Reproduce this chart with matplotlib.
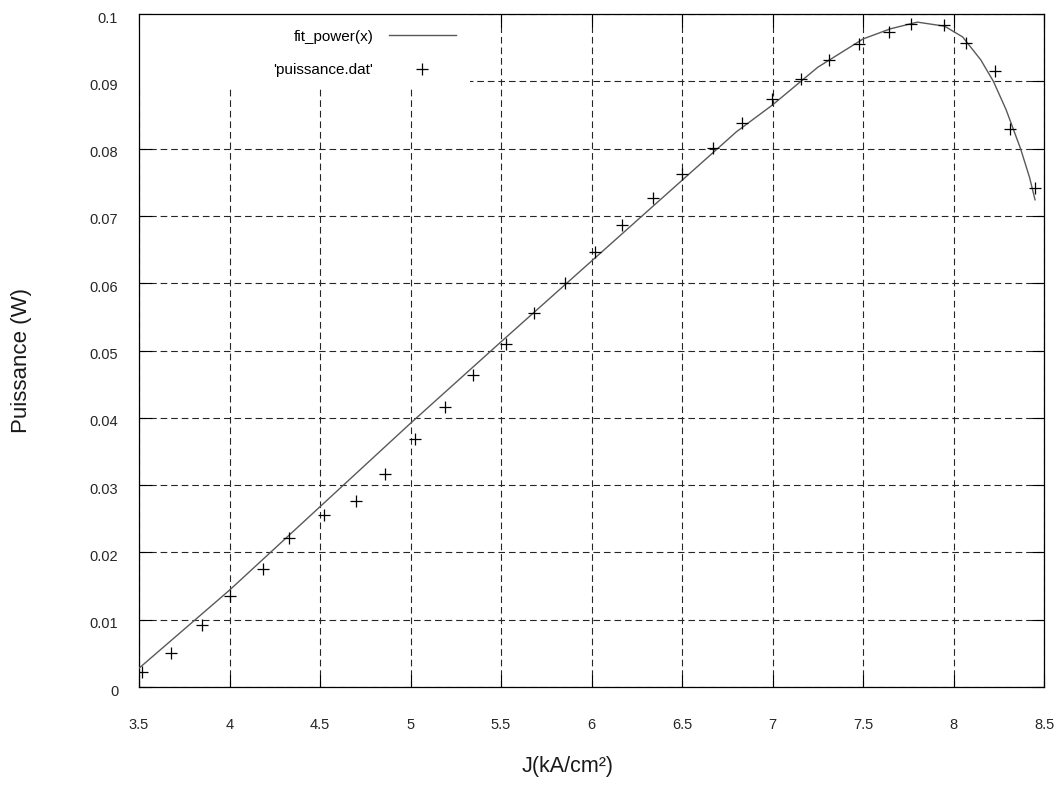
import matplotlib
matplotlib.use("Agg")
import matplotlib.pyplot as plt
from matplotlib.patches import Rectangle
from matplotlib.transforms import ScaledTranslation

plt.rcParams['font.family'] = ['Liberation Sans', 'DejaVu Sans']

# measured points ('puissance.dat')
j_data = [3.516, 3.675, 3.850, 4.003, 4.183, 4.327, 4.520, 4.700, 4.857, 5.023,
          5.189, 5.347, 5.526, 5.684, 5.854, 6.019, 6.169, 6.342, 6.502, 6.670,
          6.830, 6.995, 7.159, 7.312, 7.478, 7.644, 7.766, 7.946, 8.067, 8.227,
          8.312, 8.449]
p_data = [0.0022, 0.0051, 0.0092, 0.0135, 0.0176, 0.0222, 0.0255, 0.0276, 0.0317, 0.0369,
          0.0416, 0.0463, 0.0509, 0.0556, 0.0600, 0.0646, 0.0687, 0.0726, 0.0763, 0.0801,
          0.0838, 0.0874, 0.0903, 0.0932, 0.0955, 0.0973, 0.0985, 0.0983, 0.0957, 0.0915,
          0.0829, 0.0742]

# fitted curve
j_fit = [3.5, 4.0, 4.5, 5.0, 5.5, 6.0, 6.5, 6.8, 7.0, 7.25, 7.5, 7.65, 7.8,
         7.95, 8.05, 8.15, 8.22, 8.29, 8.37, 8.42, 8.45]
p_fit = [0.0028, 0.0144, 0.0268, 0.0392, 0.0513, 0.0633, 0.0753, 0.0825, 0.0865,
         0.0921, 0.0963, 0.0978, 0.0988, 0.0982, 0.0966, 0.0932, 0.0900, 0.0858,
         0.0800, 0.0757, 0.0724]

x_ticks = [3.5, 4, 4.5, 5, 5.5, 6, 6.5, 7, 7.5, 8, 8.5]
y_ticks = [0, 0.01, 0.02, 0.03, 0.04, 0.05, 0.06, 0.07, 0.08, 0.09, 0.1]

fig = plt.figure(figsize=(10.63, 7.85), dpi=100)
ax = fig.add_axes([0.1308, 0.1248, 0.8514, 0.8573])

ax.plot(j_fit, p_fit, color='0.35', lw=1.0, label='fit_power(x)', zorder=3)
ax.plot(j_data, p_data, ls='none', marker='+', ms=8, mew=0.9, color='black',
        label="'puissance.dat'", zorder=4)

ax.set_xlim(3.5, 8.5)
ax.set_ylim(0, 0.1)
ax.set_xticks(x_ticks)
ax.set_yticks(y_ticks)
ax.set_xticklabels(['%g' % v for v in x_ticks])
ax.set_yticklabels(['%g' % v for v in y_ticks])
ax.tick_params(direction='in', length=9, width=0.8, top=True, right=True,
               labelsize=10.5, labelcolor='0.15')
ax.tick_params(axis='x', pad=22)
ax.tick_params(axis='y', pad=15)
# gnuplot puts y labels a touch below the tick
shift = ScaledTranslation(0, -0.03, fig.dpi_scale_trans)
for lbl in ax.get_yticklabels():
    lbl.set_transform(lbl.get_transform() + shift)

ax.grid(True, color='0.15', lw=0.8, dashes=(6, 3.5), zorder=1)
ax.set_axisbelow(True)
for s in ax.spines.values():
    s.set_linewidth(0.9)

# white key area over the grid
ax.add_patch(Rectangle((0, 0.893), 0.366, 0.107, transform=ax.transAxes,
                       facecolor='white', edgecolor='none', zorder=2))

ax.legend(loc='upper right', bbox_to_anchor=(0.350, 0.977), frameon=False,
          markerfirst=False, fontsize=11, handlelength=4.4, handletextpad=1.0,
          labelspacing=1.3, borderpad=0, borderaxespad=0, numpoints=1)

ax.set_xlabel('J(kA/cm²)', fontsize=15.5, color='0.1')
ax.set_ylabel('Puissance (W)', fontsize=16, color='0.1')
ax.xaxis.set_label_coords(0.473, -0.103)
ax.yaxis.set_label_coords(-0.118, 0.485)

fig.savefig('out.png', dpi=100)
